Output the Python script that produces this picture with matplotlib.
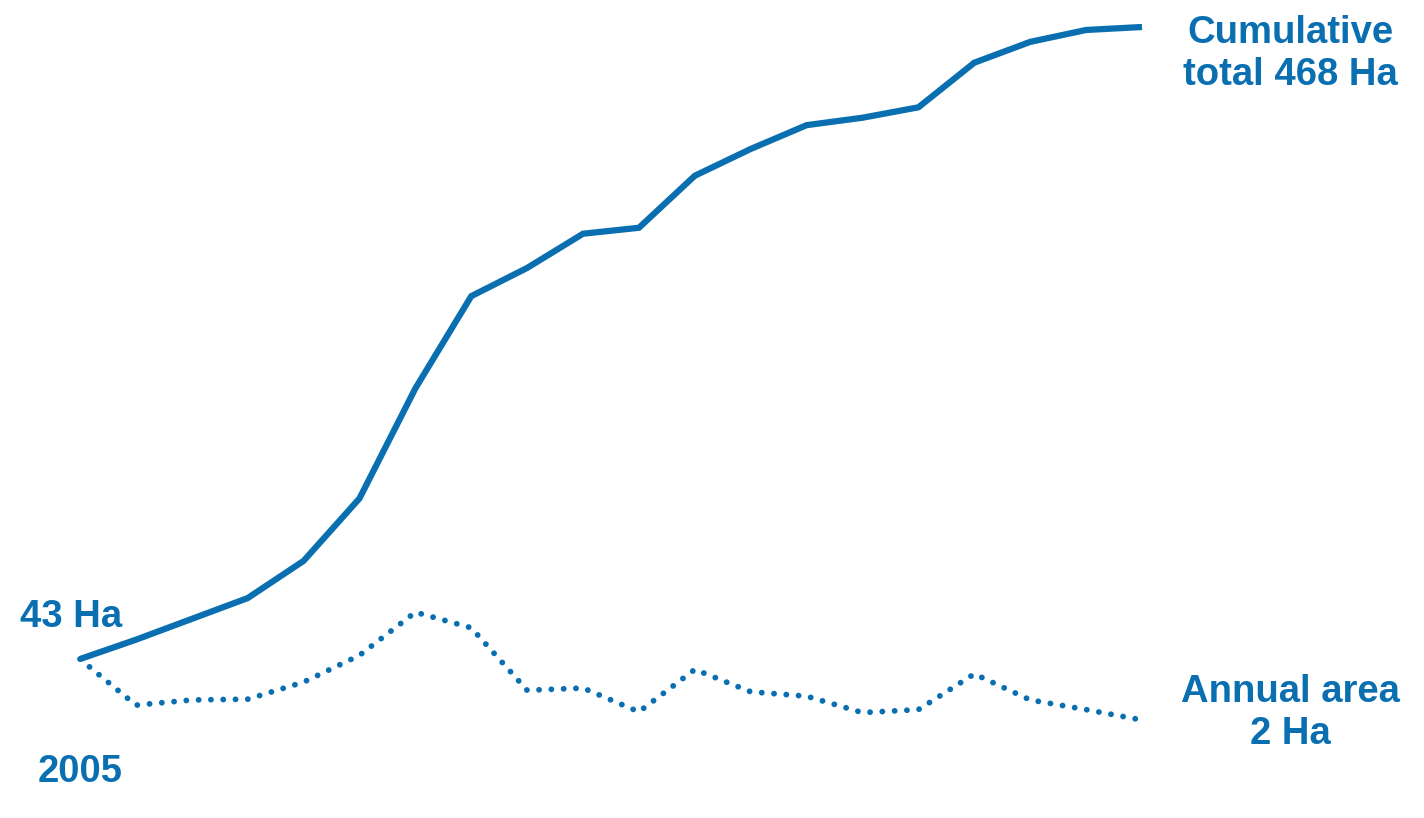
import matplotlib
matplotlib.use("Agg")
import matplotlib.pyplot as plt

years = list(range(2005, 2025))
cumulative = [43, 56, 70, 84, 109, 151, 225, 287, 306, 329, 333, 368, 386, 402, 407, 414, 444, 458, 466, 468]
annual = [43, 12, 15.5, 16, 27.5, 45.5, 74.5, 64, 22, 23.5, 7.5, 36, 21, 18, 7, 9, 33, 15.5, 9, 2]

label_start = "43 Ha"
label_year = "2005"
label_cum = "Cumulative\ntotal 468 Ha"
label_ann = "Annual area\n2 Ha"

color = "#0a6fb1"
plt.rcParams['font.family'] = ['Liberation Sans', 'DejaVu Sans']

W, H = 1424, 818
fig = plt.figure(figsize=(W / 100, H / 100), dpi=100)
ax = fig.add_axes([80 / W, 1 - 723 / H, (1142 - 80) / W, (723 - 27) / H])
ax.set_xlim(years[0], years[-1])
ax.set_ylim(0, 468)
ax.axis("off")

ax.plot(years, cumulative, color=color, lw=4.5, solid_joinstyle="miter", solid_capstyle="butt", clip_on=False)
ax.plot(years, annual, color=color, lw=4.2, linestyle=(0, (0.01, 2.1)), dash_capstyle="round", clip_on=False)

fs = 27.5
fig.text(20 / W, 1 - 617 / H, label_start, color=color, fontsize=fs, fontweight="bold", ha="left", va="center")
fig.text(38 / W, 1 - 772 / H, label_year, color=color, fontsize=fs, fontweight="bold", ha="left", va="center")
fig.text(1290 / W, 1 - 54 / H, label_cum, color=color, fontsize=fs, fontweight="bold", ha="center", va="center", linespacing=1.2)
fig.text(1290 / W, 1 - 713 / H, label_ann, color=color, fontsize=fs, fontweight="bold", ha="center", va="center", linespacing=1.2)

fig.savefig("out.png", dpi=100, facecolor="white")
